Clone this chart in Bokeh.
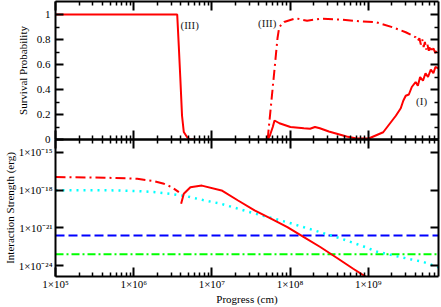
from bokeh.plotting import figure
from bokeh.layouts import column
from bokeh.models import LogAxis, LinearAxis, FixedTicker, Label, Range1d, GlobalInlineStyleSheet
from bokeh.embed import file_html
from bokeh.resources import INLINE

FONT = "Liberation Serif"

# ---------------- data ----------------
x_major = [1e5, 1e6, 1e7, 1e8, 1e9]
x_tick_labels = ["1×10⁵", "1×10⁶", "1×10⁷", "1×10⁸", "1×10⁹"]
x_minor = [m * d for d in x_major for m in range(2, 10)]

surv_ticks = [0.0, 0.2, 0.4, 0.6, 0.8, 1.0]
surv_tick_labels = ["0", "0.2", "0.4", "0.6", "0.8", "1"]
surv_minor = [0.1, 0.3, 0.5, 0.7, 0.9]

int_ticks = [1e-24, 1e-21, 1e-18, 1e-15]
int_tick_labels = ["1×10⁻²⁴", "1×10⁻²¹", "1×10⁻¹⁸", "1×10⁻¹⁵"]

# top panel: survival probability
surv_iii_x = [1e5, 3.6e6, 3.77e6, 3.94e6, 4.15e6, 4.37e6, 4.8e6, 5.2e6, 6e6]
surv_iii_y = [1.0, 1.0, 0.75, 0.5, 0.19, 0.06, 0.02, 0.0, 0.0]

surv_iii_b_x = [5.16e7, 5.69e7, 6.27e7, 6.9e7, 7.26e7, 8.39e7, 1.18e8, 1.65e8, 2.43e8, 4.35e8,
                7.77e8, 1.26e9, 2.05e9, 3.01e9, 4.03e9, 4.3e9, 4.5e9, 4.7e9, 4.9e9, 5.1e9,
                5.3e9, 5.5e9, 5.7e9, 5.94e9, 6.2e9, 6.5e9, 6.8e9, 7.2e9, 7.5e9, 7.87e9]
surv_iii_b_y = [0.0, 0.27, 0.54, 0.81, 0.90, 0.94, 0.97, 0.95, 0.966, 0.96,
                0.946, 0.938, 0.898, 0.858, 0.818, 0.79, 0.81, 0.76, 0.80, 0.74,
                0.78, 0.72, 0.76, 0.71, 0.75, 0.70, 0.73, 0.69, 0.72, 0.70]

surv_i_x = [5.16e7, 5.5e7, 6.0e7, 6.32e7, 7.3e7, 1.01e8, 1.5e8, 1.8e8, 2.08e8, 2.4e8,
            3.13e8, 5.27e8, 7.06e8, 1.03e9, 1.55e9, 2.25e9, 2.6e9, 2.8e9, 3.01e9, 3.3e9,
            3.6e9, 4.03e9, 4.3e9, 4.6e9, 5.0e9, 5.39e9, 5.8e9, 6.3e9, 6.8e9, 7.21e9, 7.87e9]
surv_i_y = [0.0, 0.03, 0.10, 0.152, 0.13, 0.10, 0.09, 0.086, 0.10, 0.09,
            0.064, 0.024, 0.008, 0.01, 0.058, 0.19, 0.25, 0.31, 0.35, 0.36,
            0.42, 0.46, 0.43, 0.50, 0.47, 0.53, 0.50, 0.56, 0.53, 0.58, 0.57]

# bottom panel: interaction strength
int_red_dd_x = [1e5, 4.28e5, 1.11e6, 1.83e6, 2.44e6, 3.08e6, 3.78e6]
int_red_dd_y = [1.1e-17, 9.8e-18, 8.1e-18, 5.2e-18, 3.2e-18, 1.7e-18, 6.9e-19]

int_red_x = [4.04e6, 4.37e6, 5.31e6, 7.43e6, 1.33e7, 2.16e7, 3.51e7, 5.69e7, 9.23e7, 1.5e8,
             2.43e8, 3.94e8, 6.41e8, 9.44e8, 1.1e9]
int_red_y = [8.3e-20, 5.1e-19, 1.7e-18, 2.3e-18, 9.5e-19, 1.5e-19, 2.5e-20, 5.4e-21, 1.15e-21, 1.8e-22,
             3.0e-23, 4.2e-24, 5.6e-25, 1.2e-25, 5e-26]

int_cyan_x = [1e5, 4.3e5, 1.1e6, 1.8e6, 3e6, 4.8e6, 7.8e6, 1.3e7, 3.5e7, 9.2e7,
              2.4e8, 4.2e8, 8.5e8, 1.3e9, 2.6e9, 5.1e9, 7.9e9]
int_cyan_y = [1e-18, 1e-18, 8.5e-19, 7.1e-19, 5.0e-19, 3.2e-19, 1.6e-19, 8.3e-20, 1.4e-20, 2.8e-21,
              4.6e-22, 1.6e-22, 3.5e-23, 1.26e-23, 4.7e-24, 1.9e-24, 7.4e-25]

int_blue_x = [1e5, 7.9e9]
int_blue_y = [2.5e-22, 2.5e-22]
int_green_x = [1e5, 7.9e9]
int_green_y = [7.8e-24, 7.8e-24]

X_RANGE = (1e5, 7.9e9)


def style_axis(ax, show_labels, major_in=8, minor_in=4):
    ax.axis_line_width = 2
    ax.axis_line_color = "black"
    ax.major_tick_line_width = 2
    ax.minor_tick_line_width = 1.5
    ax.major_tick_line_color = "black"
    ax.minor_tick_line_color = "black"
    ax.major_tick_in = major_in
    ax.major_tick_out = 0
    ax.minor_tick_in = minor_in
    ax.minor_tick_out = 0
    if show_labels:
        ax.major_label_text_font = FONT
        ax.major_label_text_font_size = "11px"
        ax.major_label_text_color = "black"
        ax.major_label_standoff = 4
        ax.axis_label_text_font = FONT
        ax.axis_label_text_font_size = "11px"
        ax.axis_label_text_font_style = "normal"
        ax.axis_label_text_color = "black"
    else:
        ax.major_label_text_font_size = "1px"
        ax.major_label_text_alpha = 0
        ax.major_label_standoff = 0


OVERLAP = 8

# ---------------- top figure ----------------
top = figure(width=441, height=139 + OVERLAP, x_axis_type="log", output_backend="svg",
             toolbar_location=None,
             x_range=Range1d(*X_RANGE), y_range=Range1d(0, 1.104),
             min_border_left=50, min_border_right=3, min_border_top=1, min_border_bottom=OVERLAP)
top.outline_line_color = None
top.grid.visible = False

xt = FixedTicker(ticks=x_major, minor_ticks=x_minor)
yt = FixedTicker(ticks=surv_ticks, minor_ticks=surv_minor)

top.xaxis.ticker = xt
style_axis(top.xaxis[0], False, major_in=9, minor_in=4)
top.yaxis.ticker = yt
top.yaxis.major_label_overrides = dict(zip(surv_ticks, surv_tick_labels))
top.yaxis.axis_label = "Survival Probability"
style_axis(top.yaxis[0], True)
top.yaxis.major_label_standoff = 5
top.yaxis.axis_label_standoff = 5

ax_top = LogAxis(ticker=xt)
style_axis(ax_top, False, major_in=9, minor_in=4)
top.add_layout(ax_top, "above")
ax_right = LinearAxis(ticker=yt)
style_axis(ax_right, False)
top.add_layout(ax_right, "right")

top.line(surv_iii_x, surv_iii_y, line_color="#ff0000", line_width=2)
top.line(surv_iii_b_x, surv_iii_b_y, line_color="#ff0000", line_width=2, line_dash="10 4 2 4")
top.line(surv_i_x, surv_i_y, line_color="#ff0000", line_width=2)

for lx, ly, lt in [(5.2e6, 0.92, "(III)"), (5.1e7, 0.935, "(III)"), (4.8e9, 0.31, "(I)")]:
    top.add_layout(Label(x=lx, y=ly, text=lt, text_align="center", text_baseline="middle",
                         text_font=FONT, text_font_size="11px", text_color="#222222"))

# ---------------- bottom figure ----------------
bot = figure(width=441, height=168 + OVERLAP, x_axis_type="log", y_axis_type="log",
             output_backend="svg", toolbar_location=None,
             x_range=Range1d(*X_RANGE), y_range=Range1d(1.35e-25, 1.07e-14),
             min_border_left=50, min_border_right=3, min_border_top=OVERLAP, min_border_bottom=31,
             margin=(-2 * OVERLAP, 0, 0, 0))
bot.outline_line_color = None
bot.grid.visible = False
bot.border_fill_color = None
bot.background_fill_color = None

it = FixedTicker(ticks=int_ticks, minor_ticks=[])
bot.xaxis.ticker = xt
bot.xaxis.major_label_overrides = dict(zip(x_major, x_tick_labels))
bot.xaxis.axis_label = "Progress (cm)"
style_axis(bot.xaxis[0], True, major_in=9, minor_in=4)
bot.xaxis.major_label_standoff = 1
bot.xaxis.axis_label_standoff = 0

bot.yaxis.ticker = it
bot.yaxis.major_label_overrides = dict(zip(int_ticks, int_tick_labels))
bot.yaxis.axis_label = "Interaction Strength (erg)"
style_axis(bot.yaxis[0], True)
bot.yaxis.major_label_standoff = 3
bot.yaxis.axis_label_standoff = 0

bax_top = LogAxis(ticker=xt)
style_axis(bax_top, False, major_in=9, minor_in=4)
bot.add_layout(bax_top, "above")
bax_right = LogAxis(ticker=it)
style_axis(bax_right, False)
bot.add_layout(bax_right, "right")

bot.line(int_blue_x, int_blue_y, line_color="#0000ff", line_width=2, line_dash="9 4")
bot.line(int_green_x, int_green_y, line_color="#00ff00", line_width=2, line_dash="8 3 2 3")
bot.line(int_cyan_x, int_cyan_y, line_color="#00ffff", line_width=2.5, line_dash="2 5")
bot.line(int_red_dd_x, int_red_dd_y, line_color="#ff0000", line_width=2, line_dash="10 4 2 4")
bot.line(int_red_x, int_red_y, line_color="#ff0000", line_width=2)

layout = column(top, bot, spacing=0,
                stylesheets=[GlobalInlineStyleSheet(css="html, body { margin: 0; padding: 0; overflow: hidden; }")])

open("out.html", "w").write(file_html(layout, INLINE))
